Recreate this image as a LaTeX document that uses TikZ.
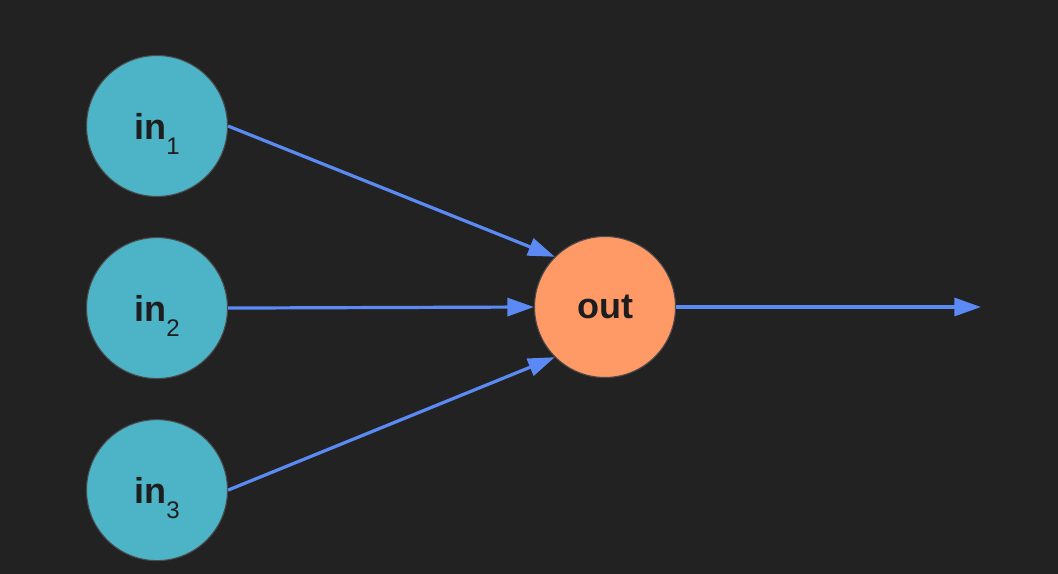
\documentclass[tikz,border=0pt]{standalone}
\usepackage{fontspec}
\setmainfont{Liberation Sans}
\usetikzlibrary{arrows.meta, positioning}
\definecolor{bgdark}{HTML}{222222}
\definecolor{inteal}{HTML}{4DB3C6}
\definecolor{outorange}{HTML}{FF9966}
\definecolor{wireblue}{HTML}{5B8AF5}
\definecolor{inkdark}{HTML}{1E1E1E}
\newcommand{\inlabel}[1]{{\bfseries in}\raisebox{-11.5pt}[0pt][0pt]{\fontsize{18}{18}\selectfont #1}}

\begin{document}
\begin{tikzpicture}[x=0.75pt, y=-0.75pt, >={Triangle[length=20pt, width=13.5pt]},
  unit/.style={circle, draw=inkdark!80!white, line width=0.8pt, minimum size=105.75pt,
    inner sep=0pt, text=inkdark, font=\fontsize{27}{27}\selectfont},
  wire/.style={->, draw=wireblue, line width=2.4pt}]
  % --- background ---
  \fill[bgdark] (0,0) rectangle (1058,574);
  \useasboundingbox (0,0) rectangle (1058,574);
  % --- inputs ---
  \node[unit, fill=inteal] (in1) at (157,126) {\inlabel{1}};
  \node[unit, fill=inteal, below=30pt of in1] (in2) {\inlabel{2}};
  \node[unit, fill=inteal, below=30pt of in2] (in3) {\inlabel{3}};
  % --- output ---
  \node[unit, fill=outorange] (out) at (605,307) {\bfseries out};
  \coordinate (end) at (981,307);
  % --- connections ---
  \draw[wire] (in1.east) -- (out.north west);
  \draw[wire] (in2.east) -- (out.west);
  \draw[wire] (in3.east) -- (out.south west);
  \draw[wire] (out.east) -- (end);
\end{tikzpicture}
\end{document}
